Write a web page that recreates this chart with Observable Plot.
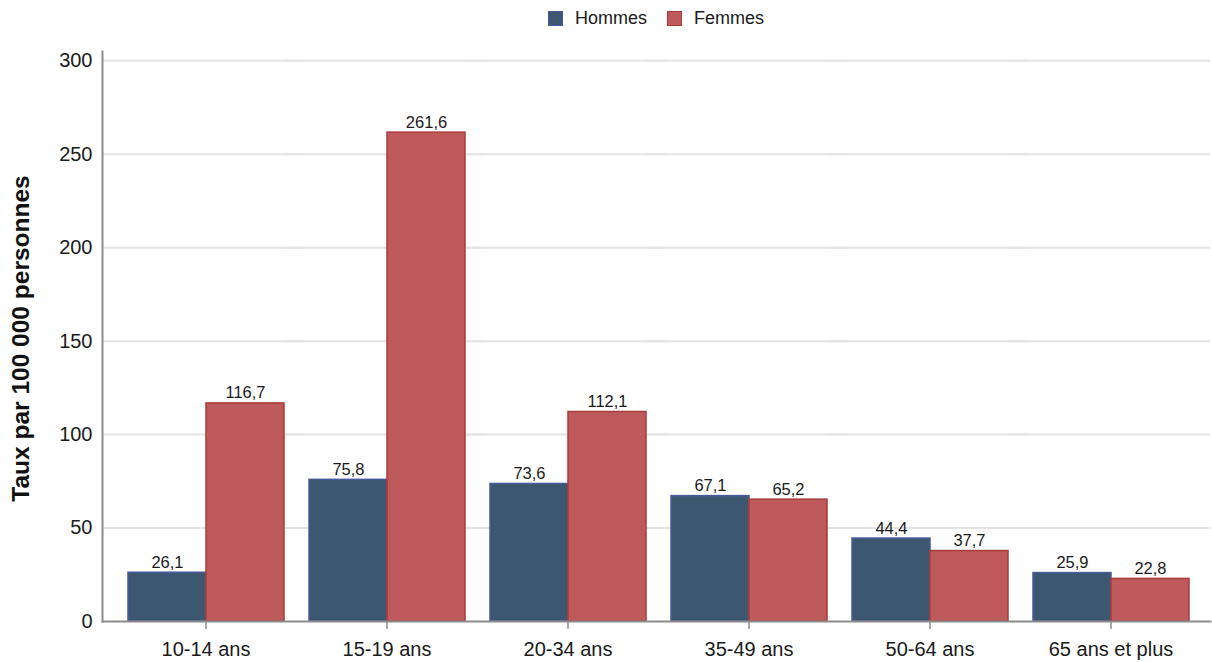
<!DOCTYPE html>
<html lang="fr">
<head>
<meta charset="utf-8">
<script src="https://cdn.jsdelivr.net/npm/d3@7"></script>
<script src="https://cdn.jsdelivr.net/npm/@observablehq/plot@0.6"></script>
<style>
  body { margin: 0; background: #fff; font-family: "Liberation Sans", Arial, sans-serif; color: #1a1a1a; }
  #legend { height: 36px; padding-left: 100px; display: flex; justify-content: center; align-items: center; font-size: 18px; }
  .item { display: flex; align-items: center; margin: 0 10px; }
  .swatch { width: 13px; height: 13px; margin-right: 12px; border: 1.5px solid; }
</style>
</head>
<body>
<div id="legend"></div>
<div id="chart"></div>
<script>
// Taux par groupe d'âge et sexe
const ages = ["10-14 ans", "15-19 ans", "20-34 ans", "35-49 ans", "50-64 ans", "65 ans et plus"];
const hommes = [26.1, 75.8, 73.6, 67.1, 44.4, 25.9];
const femmes = [116.7, 261.6, 112.1, 65.2, 37.7, 22.8];
const sexes = ["Hommes", "Femmes"];
const yTicks = [0, 50, 100, 150, 200, 250, 300];
const yTitle = "Taux par 100 000 personnes";

const fills = {Hommes: "#3e5770", Femmes: "#be5a5b"};
const strokes = {Hommes: "#4a5a9e", Femmes: "#a93b39"};

const rowsH = ages.map((age, i) => ({age, sexe: "Hommes", value: hommes[i]}));
const rowsF = ages.map((age, i) => ({age, sexe: "Femmes", value: femmes[i]}));
const fmt = d => d.value.toFixed(1).replace(".", ",");

// Légende
const legend = document.getElementById("legend");
for (const s of sexes) {
  const item = document.createElement("div");
  item.className = "item";
  const sw = document.createElement("span");
  sw.className = "swatch";
  sw.style.background = fills[s];
  sw.style.borderColor = strokes[s];
  item.appendChild(sw);
  item.appendChild(document.createTextNode(s));
  legend.appendChild(item);
}

const chart = Plot.plot({
  width: 1212,
  height: 626,
  marginTop: 15,
  marginBottom: 41,
  marginLeft: 113,
  marginRight: 9,
  style: {fontFamily: "Liberation Sans, Arial, sans-serif", color: "#1a1a1a", background: "#fff"},
  fx: {domain: ages, paddingInner: 0, paddingOuter: 0, label: null},
  x: {domain: sexes, paddingInner: 0, paddingOuter: 0.16, axis: null},
  y: {domain: [0, 305], axis: null},
  marks: [
    Plot.ruleY(yTicks.slice(1), {stroke: "#e4e4e4", strokeWidth: 2, insetLeft: -13, insetRight: -9}),
    Plot.barY(rowsH, {fx: "age", x: "sexe", y: "value", fill: fills.Hommes, stroke: strokes.Hommes, strokeWidth: 1.5}),
    Plot.barY(rowsF, {fx: "age", x: "sexe", y: "value", fill: fills.Femmes, stroke: strokes.Femmes, strokeWidth: 1.5}),
    Plot.text([...rowsH, ...rowsF], {fx: "age", x: "sexe", y: "value", text: fmt, lineAnchor: "bottom", dy: -5, fontSize: 16.5, fill: "#1a1a1a"}),
    Plot.axisY(yTicks, {tickSize: 0, tickPadding: 23, fontSize: 20, label: null, tickFormat: d => String(d)}),
    Plot.axisFx({anchor: "bottom", tickSize: 8, tickPadding: 12, fontSize: 20, label: null, stroke: "#8c8c8c", strokeWidth: 1.5}),
    Plot.frame({anchor: "left", facet: "super", insetLeft: -13, stroke: "#8c8c8c", strokeWidth: 2}),
    Plot.frame({anchor: "bottom", facet: "super", insetLeft: -13, insetRight: -9, stroke: "#8c8c8c", strokeWidth: 2}),
    Plot.text([yTitle], {facet: "super", frameAnchor: "left", rotate: -90, dx: -94, dy: 2, textAnchor: "middle", fontSize: 24.5, fontWeight: "bold", fill: "#111"})
  ]
});
document.getElementById("chart").appendChild(chart);
</script>
</body>
</html>
